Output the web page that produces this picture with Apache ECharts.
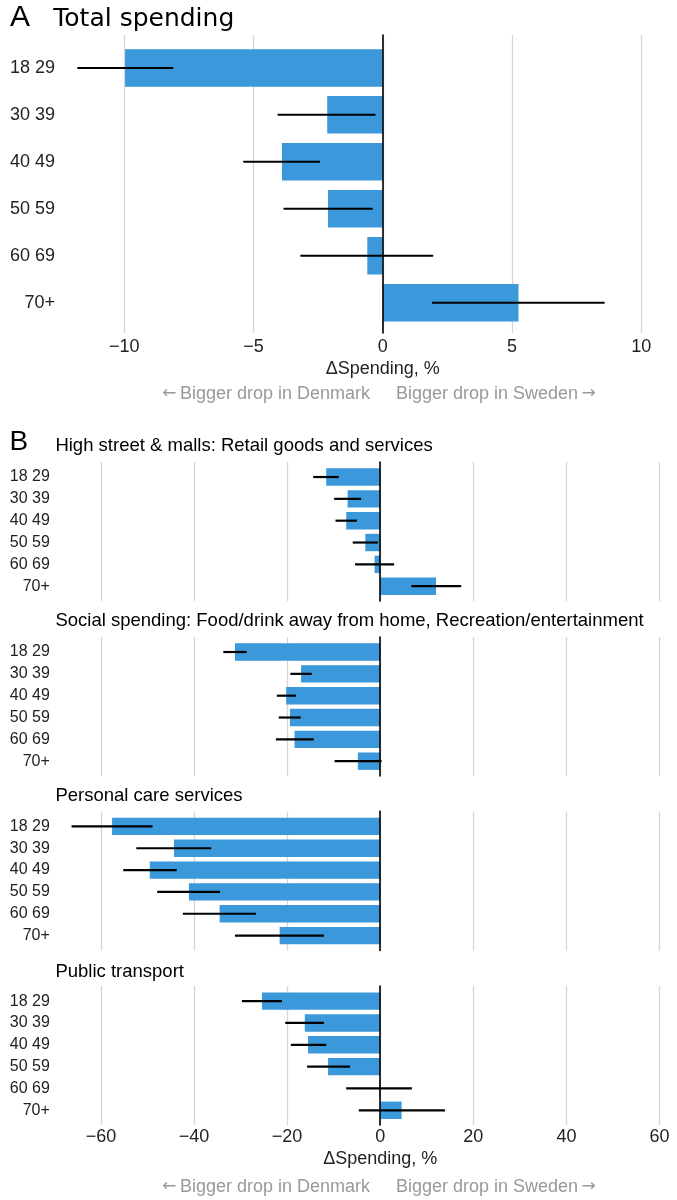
<!DOCTYPE html>
<html><head><meta charset="utf-8">
<script src="https://cdn.jsdelivr.net/npm/echarts@6/dist/echarts.min.js"></script>
<style>html,body{margin:0;padding:0;background:#fff}#c{width:677px;height:1200px}</style>
</head><body><div id="c"></div>
<script>
// ---------- data ----------
const categories = ['18 29', '30 39', '40 49', '50 59', '60 69', '70+'];

const totalVals = [-9.97, -2.15, -3.90, -2.12, -0.60, 5.25];
const totalLo   = [-11.82, -4.07, -5.40, -3.84, -3.19, 1.90];
const totalHi   = [-8.11, -0.28, -2.43, -0.39, 1.95, 8.58];

const retailVals = [-11.6, -7.0, -7.3, -3.2, -1.2, 12.0];
const retailLo   = [-14.4, -9.9, -9.6, -5.9, -5.4, 6.7];
const retailHi   = [-8.9, -4.1, -5.0, -0.5, 3.0, 17.4];

const socialVals = [-31.2, -17.0, -20.2, -19.4, -18.4, -4.8];
const socialLo   = [-33.7, -19.3, -22.2, -21.8, -22.4, -9.8];
const socialHi   = [-28.7, -14.7, -18.1, -17.1, -14.3, 0.3];

const careVals = [-57.6, -44.3, -49.5, -41.1, -34.5, -21.6];
const careLo   = [-66.3, -52.4, -55.2, -47.9, -42.4, -31.2];
const careHi   = [-48.9, -36.3, -43.7, -34.4, -26.7, -12.1];

const transportVals = [-25.4, -16.2, -15.5, -11.2, -0.2, 4.6];
const transportLo   = [-29.7, -20.4, -19.2, -15.7, -7.3, -4.6];
const transportHi   = [-21.1, -12.1, -11.6, -6.5, 6.8, 13.9];

const panelATitle = 'Total spending';
const panelBTitles = [
  'High street & malls: Retail goods and services',
  'Social spending: Food/drink away from home, Recreation/entertainment',
  'Personal care services',
  'Public transport'
];
const axisName = '\u0394Spending, %';
const leftNoteText = 'Bigger drop in Denmark';
const rightNoteText = 'Bigger drop in Sweden';

// ---------- layout ----------
const W = 677;
const BAR = '#3a98db';
const GRID = '#d6d6d6';
const SANS = '"Liberation Sans", Arial, sans-serif';
const fmt = v => v < 0 ? '\u2212' + Math.abs(v) : String(v);

const grids = [], xAxes = [], yAxes = [], series = [];

function addPanel(o) {
  // outer grid: gridlines, zero line, tick labels
  const gi = grids.length;
  grids.push({left: o.zero + o.omin * o.ppu, right: W - (o.zero + o.omax * o.ppu), top: o.otop, height: o.oh});
  xAxes.push({
    gridIndex: gi, type: 'value', min: o.omin, max: o.omax, interval: o.interval,
    axisLine: {show: false}, axisTick: {show: false},
    splitLine: {show: true, lineStyle: {color: GRID, width: 1.3}},
    axisLabel: {show: o.showX, margin: o.lblMargin, color: '#222', fontSize: 18, fontFamily: SANS, formatter: fmt},
    name: o.showX ? axisName : '', nameLocation: 'middle', nameGap: o.nameGap,
    nameTextStyle: {color: '#222', fontSize: 18, fontFamily: SANS}
  });
  yAxes.push({
    gridIndex: gi, type: 'value', z: 5,
    axisLine: {show: true, onZero: true, lineStyle: {color: '#000', width: 1.6}},
    axisTick: {show: false}, axisLabel: {show: false}, splitLine: {show: false}
  });
  // inner grid: bars and error bars
  const gj = grids.length;
  grids.push({left: o.zero + o.imin * o.ppu, right: W - (o.zero + o.imax * o.ppu), top: o.itop, height: o.ih});
  xAxes.push({gridIndex: gj, type: 'value', min: o.imin, max: o.imax, show: false, splitLine: {show: false}});
  yAxes.push({
    gridIndex: gj, type: 'category', data: categories, inverse: true,
    axisLine: {show: false}, axisTick: {show: false}, splitLine: {show: false},
    axisLabel: {margin: o.yMargin, color: '#222', fontSize: o.yFont, fontFamily: SANS}
  });
  series.push({
    type: 'bar', xAxisIndex: gj, yAxisIndex: gj, data: o.vals, barWidth: o.barW,
    itemStyle: {color: BAR}, silent: true, z: 2
  });
  series.push({
    type: 'custom', xAxisIndex: gj, yAxisIndex: gj, z: 3, silent: true,
    encode: {x: [1, 2], y: 0},
    data: categories.map((c, i) => [i, o.lo[i], o.hi[i]]),
    renderItem: function (params, api) {
      const y = api.value(0);
      const a = api.coord([api.value(1), y]);
      const b = api.coord([api.value(2), y]);
      return {type: 'line', shape: {x1: a[0], y1: a[1], x2: b[0], y2: b[1]},
              style: {stroke: '#000', lineWidth: o.ebW}};
    }
  });
}

// Panel A
addPanel({zero: 382.8, ppu: 25.85, omin: -10, omax: 10, interval: 5, imin: -12, imax: 11,
  otop: 35, oh: 298, itop: 44.4, ih: 281.8, showX: true, lblMargin: 5, nameGap: 27,
  yMargin: 17.6, yFont: 18, barW: 37.5, ebW: 2,
  vals: totalVals, lo: totalLo, hi: totalHi});

// Panel B
const bVals = [retailVals, socialVals, careVals, transportVals];
const bLo = [retailLo, socialLo, careLo, transportLo];
const bHi = [retailHi, socialHi, careHi, transportHi];
const bTops = [466.1, 641.1, 815.5, 990.2];
for (let k = 0; k < 4; k++) {
  addPanel({zero: 380.2, ppu: 4.655, omin: -60, omax: 60, interval: 20, imin: -67, imax: 63,
    otop: bTops[k] - 4.1, oh: 139, itop: bTops[k], ih: 131, showX: k === 3, lblMargin: 3, nameGap: 25,
    yMargin: 18.5, yFont: 16, barW: 17.4, ebW: 2.2,
    vals: bVals[k], lo: bLo[k], hi: bHi[k]});
}

// ---------- text ----------
const noteRich = {
  ar: {fontFamily: '"DejaVu Sans", sans-serif', fontSize: 17, color: '#999'},
  s: {fontSize: 12, fontFamily: SANS, color: '#999'}
};
function note(x, y, left) {
  return {type: 'text', x: x, y: y, style: {
    text: left ? '{ar|\u2190}{s| }' + leftNoteText : rightNoteText + '{s| }{ar|\u2192}',
    rich: noteRich, fontSize: 18, fontFamily: SANS, fill: '#999',
    textAlign: left ? 'right' : 'left', textVerticalAlign: 'middle'}};
}
function txt(x, baseline, text, size, family) {
  return {type: 'text', x: x, y: baseline - 0.3465 * size,
    style: {text: text, fontSize: size, fontFamily: family, fill: '#000', textVerticalAlign: 'middle'}};
}
const subBaselines = [452.8, 627.5, 802.8, 978];
const graphic = [
  txt(10, 28.3, 'A', 30, SANS),
  txt(53.3, 28.3, panelATitle, 25, '"DejaVu Sans", sans-serif'),
  txt(9.5, 452, 'B', 28, SANS),
  note(370, 394, true), note(396, 394, false),
  note(370, 1186.7, true), note(396, 1186.7, false)
];
panelBTitles.forEach((t, k) => graphic.push(txt(55.4, subBaselines[k], t, 18.5, SANS)));

const chart = echarts.init(document.getElementById('c'), null, {renderer: 'canvas'});
chart.setOption({
  animation: false,
  backgroundColor: '#fff',
  grid: grids, xAxis: xAxes, yAxis: yAxes, series: series, graphic: graphic
});
</script></body></html>
